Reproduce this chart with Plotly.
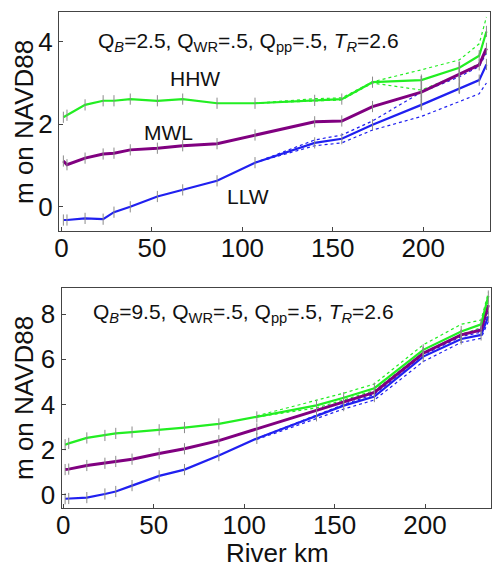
import plotly.graph_objects as go

# ---------------- data ----------------
km = [1, 3, 13, 23, 29, 38, 53, 67, 86, 107, 140, 155, 172, 199, 220, 231, 235]

# top panel (Q_B = 2.5)
hhw_top = [2.17, 2.22, 2.47, 2.57, 2.57, 2.61, 2.57, 2.61, 2.51, 2.51, 2.58, 2.61, 3.02, 3.07, 3.37, 3.66, 4.25]
mwl_top = [1.11, 1.02, 1.18, 1.28, 1.30, 1.38, 1.42, 1.48, 1.53, 1.74, 2.06, 2.08, 2.43, 2.78, 3.20, 3.44, 3.84]
llw_top = [-0.32, -0.32, -0.28, -0.30, -0.13, 0.00, 0.25, 0.41, 0.63, 1.07, 1.55, 1.65, 1.99, 2.47, 2.87, 3.07, 3.45]

# bottom panel (Q_B = 9.5)
hhw_bot = [2.22, 2.28, 2.52, 2.63, 2.72, 2.78, 2.88, 2.98, 3.14, 3.45, 3.96, 4.30, 4.72, 6.42, 7.23, 7.55, 8.80]
mwl_bot = [1.12, 1.14, 1.30, 1.40, 1.48, 1.58, 1.83, 2.04, 2.40, 2.92, 3.74, 4.12, 4.54, 6.27, 7.08, 7.30, 8.40]
llw_bot = [-0.17, -0.16, -0.12, 0.04, 0.15, 0.41, 0.84, 1.12, 1.74, 2.50, 3.50, 3.95, 4.35, 6.12, 6.90, 7.08, 7.90]

# uncertainty (dotted) bounds, downstream reach
km_band = [107, 140, 155, 172, 199, 220, 231, 235]
hhw_top_hi = [2.51, 2.62, 2.64, 3.03, 3.32, 3.56, 3.95, 4.60]
hhw_top_lo = [2.51, 2.56, 2.59, 3.00, 2.83, 3.20, 3.48, 3.72]
llw_top_hi = [1.07, 1.62, 1.74, 2.08, 2.78, 3.15, 3.40, 3.72]
llw_top_lo = [1.07, 1.48, 1.55, 1.86, 2.19, 2.55, 2.74, 3.00]
hhw_bot_hi = [3.50, 4.17, 4.50, 4.91, 6.64, 7.55, 7.74, 8.95]
hhw_bot_lo = [3.45, 3.85, 4.20, 4.62, 6.30, 7.10, 7.40, 8.60]
llw_bot_hi = [2.50, 3.55, 4.00, 4.45, 6.20, 7.00, 7.20, 8.10]
llw_bot_lo = [2.45, 3.40, 3.80, 4.20, 5.90, 6.75, 6.93, 7.67]

# gray error bars
err_km = [199, 220]
err_top_lo = [2.35, 2.75]
err_top_hi = [3.17, 3.52]
err_bot_lo = [6.12, 6.73]
err_bot_hi = [6.56, 7.30]

x_ticks = [0, 50, 100, 150, 200]
y_ticks_top = [0, 2, 4]
y_ticks_bot = [0, 2, 4, 6, 8]

GREEN = "#22ee22"
PURPLE = "#800080"
BLUE = "#2020f0"
GRAY = "#8a8a8a"
FONT = "Liberation Sans, Arial, sans-serif"

fig = go.Figure()


def add_panel(xa, ya, hhw, mwl, llw, bands, elo, ehi):
    for (hi, lo, col) in bands:
        for arr in (hi, lo):
            fig.add_trace(go.Scatter(x=km_band, y=arr, mode="lines", xaxis=xa, yaxis=ya,
                                     line=dict(color=col, width=1.2, dash="dot"),
                                     showlegend=False, hoverinfo="skip"))
    for arr, col, w in ((llw, BLUE, 2.2), (mwl, PURPLE, 3), (hhw, GREEN, 2.2)):
        fig.add_trace(go.Scatter(x=km, y=arr, mode="lines+markers", xaxis=xa, yaxis=ya,
                                 line=dict(color=col, width=w),
                                 marker=dict(symbol="line-ns", size=8,
                                             line=dict(color=GRAY, width=1)),
                                 showlegend=False))
    ex, ey = [], []
    for k, lo, hi in zip(err_km, elo, ehi):
        ex += [k, k, None]
        ey += [lo, hi, None]
    fig.add_trace(go.Scatter(x=ex, y=ey, mode="lines", xaxis=xa, yaxis=ya,
                             line=dict(color=GRAY, width=1.5), showlegend=False))


add_panel("x", "y", hhw_top, mwl_top, llw_top,
          [(hhw_top_hi, hhw_top_lo, GREEN), (llw_top_hi, llw_top_lo, BLUE)],
          err_top_lo, err_top_hi)
add_panel("x2", "y2", hhw_bot, mwl_bot, llw_bot,
          [(hhw_bot_hi, hhw_bot_lo, GREEN), (llw_bot_hi, llw_bot_lo, BLUE)],
          err_bot_lo, err_bot_hi)

axis_common = dict(showgrid=False, zeroline=False, showline=True, mirror=True, automargin=False,
                   linecolor="#444444", linewidth=1.2, ticks="inside", ticklen=4,
                   tickcolor="#444444", tickfont=dict(size=26, color="#111111", family=FONT))

fig.update_layout(
    width=496, height=574,
    margin=dict(l=0, r=0, t=0, b=0),
    paper_bgcolor="white", plot_bgcolor="white",
    font=dict(family=FONT, color="#111111"),
    xaxis=dict(domain=[0.119, 0.988], range=[-1.4, 237], tickvals=x_ticks, anchor="y",
               ticklabelstandoff=-6, **axis_common),
    yaxis=dict(domain=[0.598, 0.979], range=[-0.58, 4.72], tickvals=y_ticks_top, anchor="x", **axis_common),
    xaxis2=dict(domain=[0.124, 0.99], range=[-1.0, 236.5], tickvals=x_ticks, anchor="y2",
                ticklabelstandoff=-6, **axis_common),
    yaxis2=dict(domain=[0.115, 0.498], range=[-0.58, 9.15], tickvals=y_ticks_bot, anchor="x2", **axis_common),
    showlegend=False,
)

ann_font = dict(size=21, family=FONT, color="#111111")
fig.add_annotation(text="Q<sub><i>B</i></sub>=2.5, Q<sub>WR</sub>=.5, Q<sub>pp</sub>=.5, <i>T<sub>R</sub></i>=2.6",
                   x=96 / 496, y=1 - 42 / 574, xref="paper", yref="paper", xanchor="left", yanchor="middle",
                   showarrow=False, font=ann_font)
fig.add_annotation(text="Q<sub><i>B</i></sub>=9.5, Q<sub>WR</sub>=.5, Q<sub>pp</sub>=.5, <i>T<sub>R</sub></i>=2.6",
                   x=91 / 496, y=1 - 313 / 574, xref="paper", yref="paper", xanchor="left", yanchor="middle",
                   showarrow=False, font=ann_font)
for txt, kx, vy in (("HHW", 74, 3.12), ("MWL", 59, 1.79), ("LLW", 103, 0.24)):
    fig.add_annotation(text=txt, x=kx, y=vy, xref="x", yref="y", xanchor="center", yanchor="middle",
                       showarrow=False, font=ann_font)

title_font = dict(size=26, family=FONT, color="#111111")
fig.add_annotation(text="m on NAVD88", x=24 / 496, y=1 - 122 / 574, xref="paper", yref="paper",
                   xanchor="center", yanchor="middle", textangle=-90, showarrow=False, font=title_font)
fig.add_annotation(text="m on NAVD88", x=24 / 496, y=1 - 398 / 574, xref="paper", yref="paper",
                   xanchor="center", yanchor="middle", textangle=-90, showarrow=False, font=title_font)
fig.add_annotation(text="River km", x=277 / 496, y=1 - 553 / 574, xref="paper", yref="paper",
                   xanchor="center", yanchor="middle", showarrow=False, font=title_font)

fig.write_html("out.html", config={"displayModeBar": False},
               post_script="document.body.style.margin='0';")
